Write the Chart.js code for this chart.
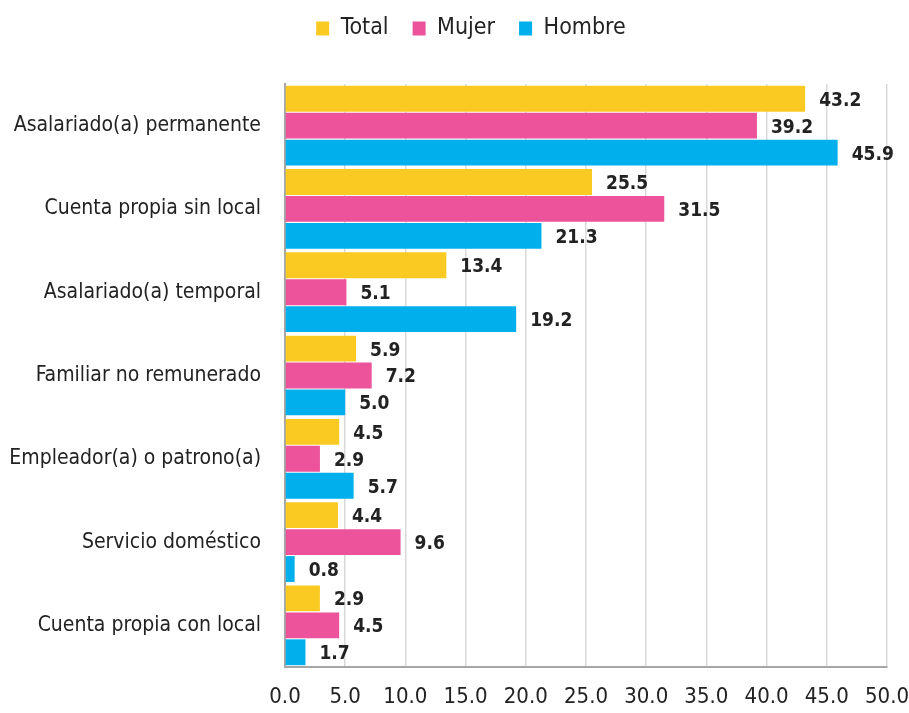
<!DOCTYPE html>
<html lang="es">
<head>
    <meta charset="UTF-8">
    <title>Categoría ocupacional por sexo</title>
    <script src="https://cdn.jsdelivr.net/npm/chart.js"></script>
    <style>
        body { margin: 0; background: #fff; }
        #wrap { width: 909px; height: 713px; }
    </style>
</head>
<body>
    <div id="wrap"><canvas id="chart" width="909" height="713"></canvas></div>

    <script>
        const categorias = [
            'Asalariado(a) permanente',
            'Cuenta propia sin local',
            'Asalariado(a) temporal',
            'Familiar no remunerado',
            'Empleador(a) o patrono(a)',
            'Servicio doméstico',
            'Cuenta propia con local'
        ];
        const total  = [43.2, 25.5, 13.4, 5.9, 4.5, 4.4, 2.9];
        const mujer  = [39.2, 31.5, 5.1, 7.2, 2.9, 9.6, 4.5];
        const hombre = [45.9, 21.3, 19.2, 5.0, 5.7, 0.8, 1.7];
        const ticksX = [0, 5, 10, 15, 20, 25, 30, 35, 40, 45, 50];

        const fuente = '"DejaVu Sans Condensed", "Liberation Sans Narrow", "Liberation Sans", sans-serif';

        // etiquetas de valor a la derecha de cada barra
        const etiquetas = {
            id: 'etiquetas',
            afterDatasetsDraw(chart) {
                const ctx = chart.ctx;
                ctx.save();
                ctx.font = 'bold 19px ' + fuente;
                ctx.fillStyle = '#222';
                ctx.textBaseline = 'middle';
                chart.data.datasets.forEach((ds, i) => {
                    chart.getDatasetMeta(i).data.forEach((bar, j) => {
                        ctx.fillText(ds.data[j].toFixed(1), bar.x + 14, bar.y + 2);
                    });
                });
                ctx.restore();
            }
        };

        // más espacio bajo la leyenda, y leyenda un poco a la derecha
        const espacioLeyenda = {
            id: 'espacioLeyenda',
            beforeInit(chart) {
                const fit = chart.legend.fit;
                chart.legend.fit = function () {
                    fit.bind(chart.legend)();
                    this.height += 34;
                };
            },
            beforeDraw(chart) {
                chart.legend.left = 55;
            }
        };

        new Chart(document.getElementById('chart'), {
            type: 'bar',
            data: {
                labels: categorias,
                datasets: [
                    { label: 'Total',  data: total,  backgroundColor: '#FBCA22' },
                    { label: 'Mujer',  data: mujer,  backgroundColor: '#EC539A' },
                    { label: 'Hombre', data: hombre, backgroundColor: '#00AFEC' }
                ]
            },
            options: {
                indexAxis: 'y',
                responsive: false,
                animation: false,
                layout: { padding: { top: -7, right: 22, left: 0, bottom: 0 } },
                datasets: { bar: { categoryPercentage: 0.97, barPercentage: 0.96 } },
                plugins: {
                    legend: {
                        position: 'top',
                        labels: {
                            boxWidth: 13, boxHeight: 14, padding: 24,
                            color: '#222',
                            font: { family: fuente, size: 23 }
                        }
                    },
                    tooltip: { enabled: false }
                },
                scales: {
                    x: {
                        min: 0, max: 50,
                        afterBuildTicks: s => { s.ticks = ticksX.map(v => ({ value: v })); },
                        afterFit: s => { s.height = 46; s.paddingRight = 0; },
                        grid: { color: '#d9d9d9', lineWidth: 1.5, drawTicks: false },
                        border: { color: '#a6a6a6', width: 2 },
                        ticks: {
                            padding: 17,
                            color: '#222',
                            font: { family: fuente, size: 22 },
                            callback: v => Number(v).toFixed(1)
                        }
                    },
                    y: {
                        afterFit: s => { s.width = 285; },
                        grid: { display: false },
                        border: { color: '#a6a6a6', width: 2 },
                        ticks: {
                            padding: 16,
                            color: '#222',
                            font: { family: fuente, size: 21 }
                        }
                    }
                }
            },
            plugins: [etiquetas, espacioLeyenda]
        });
    </script>
</body>
</html>
